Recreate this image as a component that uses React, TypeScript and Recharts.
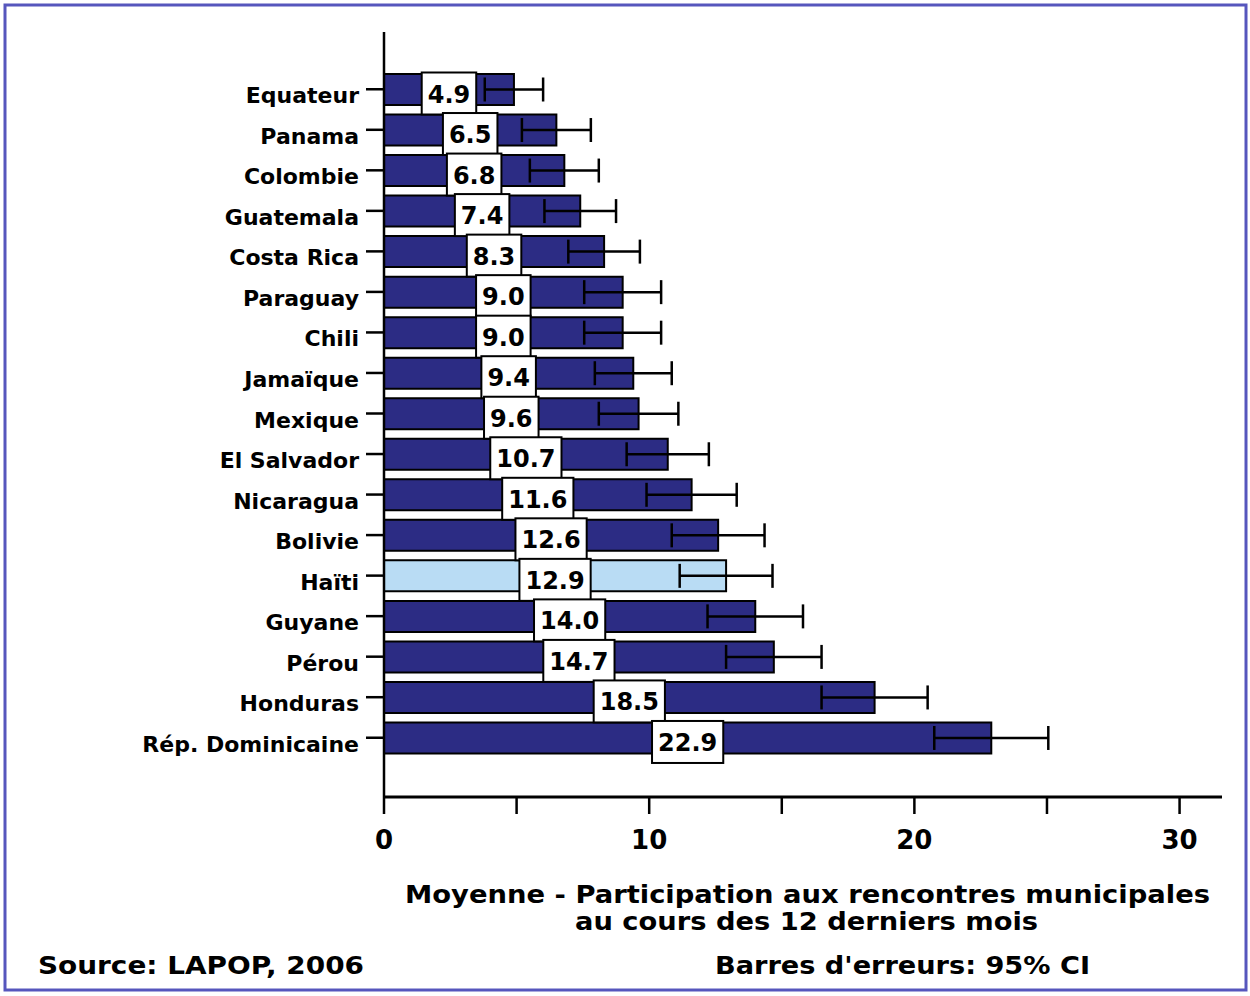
import { Bar, BarChart, Cell, ErrorBar, LabelList, XAxis, YAxis } from 'recharts'

const countries = [
  'Equateur', 'Panama', 'Colombie', 'Guatemala', 'Costa Rica', 'Paraguay', 'Chili',
  'Jamaïque', 'Mexique', 'El Salvador', 'Nicaragua', 'Bolivie', 'Haïti', 'Guyane',
  'Pérou', 'Honduras', 'Rép. Dominicaine',
]
const means = [4.9, 6.5, 6.8, 7.4, 8.3, 9.0, 9.0, 9.4, 9.6, 10.7, 11.6, 12.6, 12.9, 14.0, 14.7, 18.5, 22.9]
// 95% CI half width
const ciHalf = [1.1, 1.3, 1.3, 1.35, 1.35, 1.45, 1.45, 1.45, 1.5, 1.55, 1.7, 1.75, 1.75, 1.8, 1.8, 2.0, 2.15]
const xTicks = [0, 5, 10, 15, 20, 25, 30]
const highlight = 'Haïti'

const NAVY = '#2c2c84'
const LIGHT = '#b9dcf4'
const FONT = '"DejaVu Sans", sans-serif'

const data = countries.map((name, i) => ({ name, value: means[i], err: ciHalf[i] }))

const YTick = (props: any) => {
  const { x, y, payload } = props
  return (
    <text x={x} y={y + 14} textAnchor="end" fontFamily={FONT} fontWeight="bold" fontSize={22} fill="#000">
      {payload.value}
    </text>
  )
}

const XTick = (props: any) => {
  const { x, y, payload } = props
  if (payload.value % 10 !== 0) return null
  return (
    <text x={x} y={y + 35} textAnchor="middle" fontFamily={FONT} fontWeight="bold" fontSize={26} fill="#000">
      {payload.value}
    </text>
  )
}

const ValueBox = (props: any) => {
  const { x, y, width, height, value } = props
  const txt = Number(value).toFixed(1)
  const tw = (txt.length - 1) * 0.696 * 24 + 0.38 * 24
  const bw = tw + 12
  const bh = 42
  const cx = x + width / 2
  const cy = y + height / 2 + 4
  return (
    <g>
      <rect x={cx - bw / 2} y={cy - bh / 2} width={bw} height={bh} fill="#fff" stroke="#000" strokeWidth={2} />
      <text x={cx} y={cy + 9} textAnchor="middle" fontFamily={FONT} fontWeight="bold" fontSize={24} fill="#000">
        {txt}
      </text>
    </g>
  )
}

export default function App() {
  return (
    <div style={{ position: 'absolute', left: 0, top: 0, width: 1250, height: 996, background: '#fff' }}>
      <BarChart
        width={1250}
        height={996}
        data={data}
        layout="vertical"
        margin={{ top: 32, right: 28, left: 0, bottom: 139 }}
      >
        <XAxis
          type="number"
          domain={[0, 31.6]}
          ticks={xTicks}
          interval={0}
          height={60}
          axisLine={{ stroke: '#000', strokeWidth: 3 }}
          tickLine={{ stroke: '#000', strokeWidth: 2.5 }}
          tickSize={17}
          tickMargin={0}
          tick={<XTick />}
          allowDataOverflow
        />
        <YAxis
          type="category"
          dataKey="name"
          width={384}
          padding={{ top: 37, bottom: 39 }}
          axisLine={{ stroke: '#000', strokeWidth: 2.5 }}
          tickLine={{ stroke: '#000', strokeWidth: 2.5 }}
          tickSize={18}
          tickMargin={7}
          interval={0}
          tick={<YTick />}
        />
        <Bar dataKey="value" barSize={31} stroke="#000" strokeWidth={2} isAnimationActive={false}>
          {data.map((d, i) => (
            <Cell key={i} fill={d.name === highlight ? LIGHT : NAVY} />
          ))}
          <ErrorBar dataKey="err" direction="x" width={12} stroke="#000" strokeWidth={2.5} />
          <LabelList dataKey="value" content={<ValueBox />} />
        </Bar>
      </BarChart>

      <svg
        width={1250}
        height={996}
        style={{ position: 'absolute', left: 0, top: 0, pointerEvents: 'none' }}
      >
        <rect x={5} y={5} width={1241} height={985} fill="none" stroke="#5656bd" strokeWidth={3} />
        <g fontFamily={FONT} fontWeight="bold" fill="#000">
          <text x={405} y={903} fontSize={25} textLength={805} lengthAdjust="spacingAndGlyphs">
            Moyenne - Participation aux rencontres municipales
          </text>
          <text x={575} y={930} fontSize={25} textLength={463} lengthAdjust="spacingAndGlyphs">
            au cours des 12 derniers mois
          </text>
          <text x={38} y={974} fontSize={25} textLength={326} lengthAdjust="spacingAndGlyphs">
            Source: LAPOP, 2006
          </text>
          <text x={715} y={974} fontSize={25} textLength={375} lengthAdjust="spacingAndGlyphs">
            Barres d'erreurs: 95% CI
          </text>
        </g>
      </svg>
    </div>
  )
}
